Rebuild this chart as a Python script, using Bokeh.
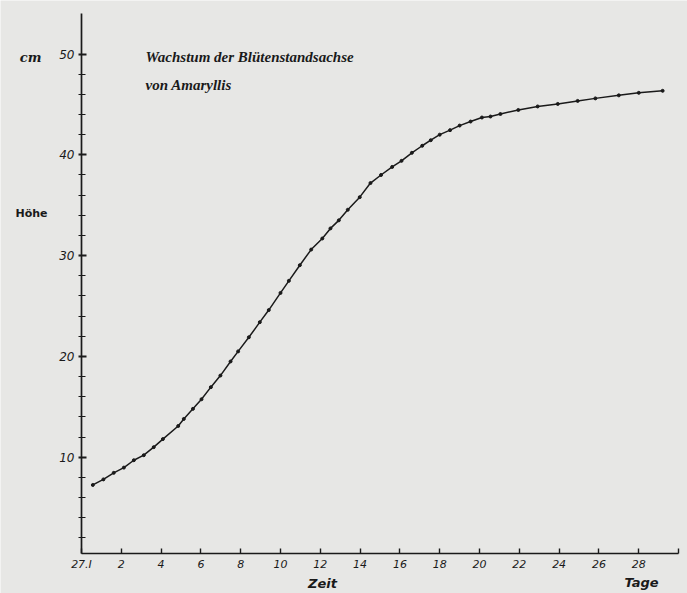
from bokeh.plotting import figure
from bokeh.models import Range1d, Label, FixedTicker, LinearAxis
from bokeh.embed import file_html
from bokeh.resources import INLINE

# Zeit (Tage seit 27.I) und Höhe (cm)
tage = [0.57, 1.1, 1.62, 2.13, 2.63, 3.13, 3.63, 4.09, 4.86, 5.14, 5.6, 6.03, 6.5,
        6.98, 7.49, 7.87, 8.41, 8.96, 9.41, 10.0, 10.42, 10.97, 11.54, 12.1, 12.51,
        12.93, 13.38, 13.98, 14.52, 15.05, 15.61, 16.08, 16.6, 17.12, 17.55, 18.0,
        18.52, 19.0, 19.55, 20.12, 20.55, 21.05, 21.95, 22.92, 23.93, 24.93, 25.82,
        27.0, 28.0, 29.2]
hoehe = [7.25, 7.8, 8.45, 8.97, 9.7, 10.2, 11.0, 11.8, 13.1, 13.8, 14.8, 15.75, 16.95,
         18.1, 19.5, 20.5, 21.9, 23.4, 24.6, 26.3, 27.5, 29.05, 30.6, 31.7, 32.7,
         33.5, 34.55, 35.8, 37.2, 38.0, 38.8, 39.4, 40.2, 40.9, 41.45, 42.0,
         42.45, 42.9, 43.3, 43.7, 43.8, 44.05, 44.45, 44.8, 45.05, 45.35, 45.6,
         45.9, 46.15, 46.35]

x_ticks = [0, 2, 4, 6, 8, 10, 12, 14, 16, 18, 20, 22, 24, 26, 28, 30]
x_tick_labels = {0: "27.I", 30: ""}
y_ticks = [10, 20, 30, 40, 50]
y_minor = [2, 4, 6, 8, 12, 14, 16, 18, 22, 24, 26, 28, 32, 34, 36, 38, 42, 44, 46, 48]

title1 = "Wachstum der Blütenstandsachse"
title2 = "von Amaryllis"

paper = "#e7e7e5"
ink = "#1a1a1a"

p = figure(width=687, height=593, output_backend="svg", toolbar_location=None,
           x_range=Range1d(-4.07, 30.45), y_range=Range1d(-3.52, 55.31),
           x_axis_location=None, y_axis_location=None,
           min_border=0)
p.background_fill_color = paper
p.border_fill_color = paper
p.outline_line_color = None
p.grid.visible = False

xa = LinearAxis(fixed_location=0.4, bounds=(0, 30))
xa.ticker = FixedTicker(ticks=x_ticks)
xa.major_label_overrides = x_tick_labels
xa.axis_line_color = ink
xa.axis_line_width = 1.7
xa.major_tick_line_color = ink
xa.major_tick_line_width = 1.4
xa.major_tick_in = 5
xa.major_tick_out = 0
xa.minor_tick_line_color = None
xa.major_label_standoff = 4
xa.major_label_text_font = "DejaVu Sans"
xa.major_label_text_font_style = "italic"
xa.major_label_text_font_size = "11px"
xa.major_label_text_color = ink
p.add_layout(xa, "below")

ya = LinearAxis(fixed_location=0, bounds=(0.4, 54.0))
ya.ticker = FixedTicker(ticks=y_ticks, minor_ticks=y_minor)
ya.axis_line_color = ink
ya.axis_line_width = 1.7
ya.major_tick_line_color = ink
ya.major_tick_line_width = 1.8
ya.major_tick_in = 5
ya.major_tick_out = 3
ya.minor_tick_line_color = ink
ya.minor_tick_line_width = 1.2
ya.minor_tick_in = 4
ya.minor_tick_out = 3
ya.major_label_standoff = 4
ya.major_label_text_font = "DejaVu Sans"
ya.major_label_text_font_style = "italic"
ya.major_label_text_font_size = "12px"
ya.major_label_text_color = ink
p.add_layout(ya, "left")

p.line(tage, hoehe, line_color=ink, line_width=1.5)
p.scatter(tage, hoehe, size=3.0, fill_color=ink, line_color=ink)

p.add_layout(Label(x=3.22, y=49.75, text=title1, text_font="Liberation Serif",
                   text_font_style="bold italic", text_font_size="15px",
                   text_baseline="middle", text_color=ink))
p.add_layout(Label(x=3.22, y=46.97, text=title2, text_font="Liberation Serif",
                   text_font_style="bold italic", text_font_size="15px",
                   text_baseline="middle", text_color=ink))
p.add_layout(Label(x=-2.56, y=49.65, text="cm", text_font="DejaVu Serif",
                   text_font_style="bold italic", text_font_size="13px",
                   text_align="center", text_baseline="middle", text_color=ink))
p.add_layout(Label(x=-2.51, y=34.18, text="Höhe", text_font="DejaVu Sans",
                   text_font_style="bold", text_font_size="11px", text_align="center",
                   text_baseline="middle", text_color=ink))
p.add_layout(Label(x=12.11, y=-2.53, text="Zeit", text_font="DejaVu Sans",
                   text_font_style="bold italic", text_font_size="13px",
                   text_align="center", text_baseline="middle", text_color=ink))
p.add_layout(Label(x=28.14, y=-2.43, text="Tage", text_font="DejaVu Sans",
                   text_font_style="bold italic", text_font_size="13px",
                   text_align="center", text_baseline="middle", text_color=ink))

open("out.html", "w").write(file_html(p, INLINE))
